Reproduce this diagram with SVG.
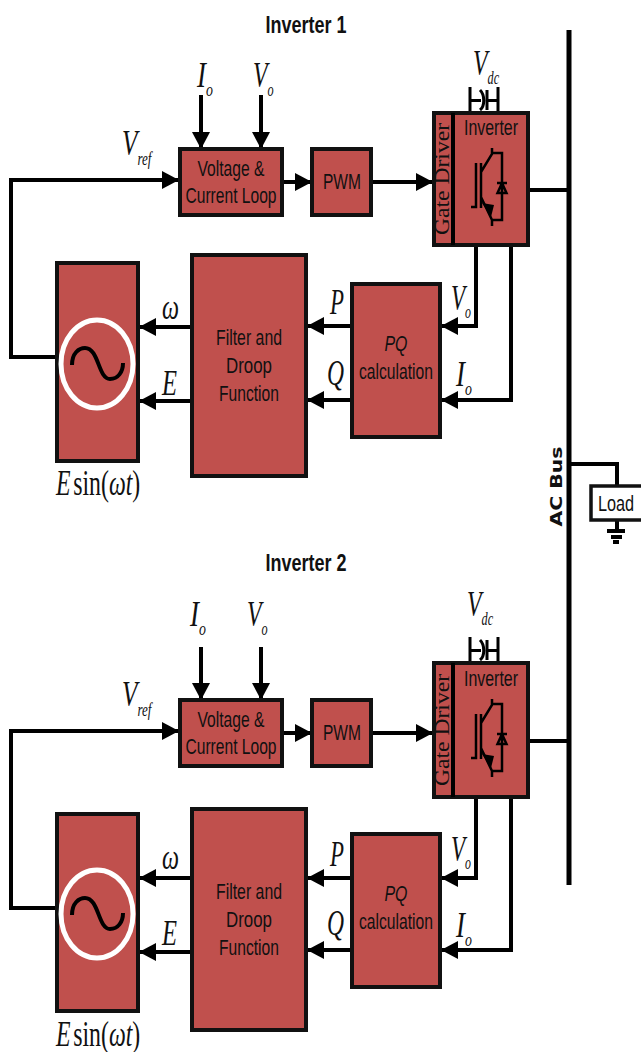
<svg xmlns="http://www.w3.org/2000/svg" width="641" height="1052" viewBox="0 0 641 1052">
<style>
.b{fill:#c0504d;stroke:#111;stroke-width:4;stroke-linejoin:miter}
.l{fill:none;stroke:#000;stroke-width:4}
.t{fill:none;stroke:#000;stroke-width:2.500}
.c{fill:none;stroke:#000;stroke-width:3}
.a{stroke:#000;stroke-width:4;fill:none}
.s{font-family:"Liberation Sans",sans-serif;font-size:22px;fill:#111;text-anchor:middle}
.i{font-family:"Liberation Serif",serif;font-style:italic;fill:#111;font-size:35px}
.u{font-size:18px}
.h{font-family:"Liberation Sans",sans-serif;font-weight:bold;font-size:23px;fill:#111;text-anchor:middle}
.g{font-family:"Liberation Serif",serif;font-size:20px;fill:#111;text-anchor:middle}
.e{fill:none;stroke:#fff;stroke-width:5}
</style>
<defs>
<marker id="ar" markerUnits="userSpaceOnUse" markerWidth="18" markerHeight="18" refX="17" refY="9" orient="auto"><path d="M0 0L17 9L0 18Z" fill="#000"/></marker>
<g id="igbt">
<path class="t" d="M471 207H476V163M481 163V208M481 172L492 154V148M492 153H502V220H492M492 226V220L481 197M497 183H507M497.500 193H506.500L502 183Z"/>
<path d="M482 203L494 205L491 217Z" fill="#000"/>
</g>
<path id="sine" class="l" d="M72 365C72 353 79 348 85 348C99 348 98 379 110 379C118 379 123 372 123 363"/>
</defs>

<g id="connectors">
<path class="l" style="stroke-width:5" d="M569 30V885"/>
<path class="l" d="M528 190H569M528 741H569M569 464H617V486M617 520V530"/>
<path class="l" d="M607 531H625M611 537H622"/>
<path class="l" d="M613 542H619"/>
<!-- Inverter 1 -->
<path class="a" marker-end="url(#ar)" d="M201 95V149"/>
<path class="a" marker-end="url(#ar)" d="M261 95V149"/>
<path class="a" marker-end="url(#ar)" d="M56 357H11V180H179"/>
<path class="a" marker-end="url(#ar)" d="M282 182H312"/>
<path class="a" marker-end="url(#ar)" d="M371 182H433"/>
<path class="a" marker-end="url(#ar)" d="M476 245V326H441"/>
<path class="a" marker-end="url(#ar)" d="M511 245V400H441"/>
<path class="a" marker-end="url(#ar)" d="M351 326H307"/>
<path class="a" marker-end="url(#ar)" d="M351 400H307"/>
<path class="a" marker-end="url(#ar)" d="M192 327H139"/>
<path class="a" marker-end="url(#ar)" d="M192 401H139"/>
<path class="c" d="M470 87V112M498 87V112M470 100.500H481M487 100.500H498"/>
<path class="c" d="M480 90C485 95 485 106 480 110M487 90V110"/>
<!-- Inverter 2 -->
<path class="a" marker-end="url(#ar)" d="M201 647V700"/>
<path class="a" marker-end="url(#ar)" d="M261 647V700"/>
<path class="a" marker-end="url(#ar)" d="M56 908H11V731H179"/>
<path class="a" marker-end="url(#ar)" d="M282 733H312"/>
<path class="a" marker-end="url(#ar)" d="M371 733H433"/>
<path class="a" marker-end="url(#ar)" d="M476 797V878H441"/>
<path class="a" marker-end="url(#ar)" d="M511 797V950H441"/>
<path class="a" marker-end="url(#ar)" d="M351 878H307"/>
<path class="a" marker-end="url(#ar)" d="M351 950H307"/>
<path class="a" marker-end="url(#ar)" d="M192 878H139"/>
<path class="a" marker-end="url(#ar)" d="M192 952H139"/>
<path class="c" d="M470 637V662M498 637V662M470 650.500H481M487 650.500H498"/>
<path class="c" d="M480 640C485 645 485 656 480 660M487 640V660"/>
</g>

<text class="h" x="306" y="33" textLength="81" lengthAdjust="spacingAndGlyphs">Inverter 1</text>
<text class="h" x="306" y="571" textLength="81" lengthAdjust="spacingAndGlyphs">Inverter 2</text>

<g id="vc1"><rect class="b" x="180" y="149" width="102" height="66"/><text class="s" x="231" y="176" textLength="67" lengthAdjust="spacingAndGlyphs">Voltage &amp;</text><text class="s" x="231" y="203" textLength="91" lengthAdjust="spacingAndGlyphs">Current Loop</text></g>
<g id="pwm1"><rect class="b" x="312" y="149" width="59" height="66"/><text class="s" x="342" y="189" textLength="38" lengthAdjust="spacingAndGlyphs">PWM</text></g>
<g id="inv1"><rect class="b" x="434" y="113" width="94" height="132"/><path class="l" d="M453 113V245"/><text class="s" x="491" y="135" textLength="54" lengthAdjust="spacingAndGlyphs">Inverter</text><text class="g" transform="translate(449 179) rotate(-90)" textLength="112" lengthAdjust="spacingAndGlyphs">Gate Driver</text><use href="#igbt"/></g>
<g id="src1"><rect class="b" x="57" y="263" width="81" height="198"/><ellipse class="e" cx="97" cy="364" rx="36" ry="44"/><use href="#sine"/></g>
<g id="droop1"><rect class="b" x="192" y="255" width="114" height="221"/><text class="s" x="249" y="345" textLength="66" lengthAdjust="spacingAndGlyphs">Filter and</text><text class="s" x="249" y="373" textLength="46" lengthAdjust="spacingAndGlyphs">Droop</text><text class="s" x="249" y="401" textLength="60" lengthAdjust="spacingAndGlyphs">Function</text></g>
<g id="pq1"><rect class="b" x="352" y="284" width="88" height="153"/><text class="s" x="396" y="351" font-style="italic" textLength="23" lengthAdjust="spacingAndGlyphs">PQ</text><text class="s" x="396" y="379" textLength="74" lengthAdjust="spacingAndGlyphs">calculation</text></g>

<g id="vc2"><rect class="b" x="180" y="700" width="102" height="66"/><text class="s" x="231" y="727" textLength="67" lengthAdjust="spacingAndGlyphs">Voltage &amp;</text><text class="s" x="231" y="754" textLength="91" lengthAdjust="spacingAndGlyphs">Current Loop</text></g>
<g id="pwm2"><rect class="b" x="312" y="700" width="59" height="66"/><text class="s" x="342" y="740" textLength="38" lengthAdjust="spacingAndGlyphs">PWM</text></g>
<g id="inv2"><rect class="b" x="434" y="663" width="94" height="134"/><path class="l" d="M453 663V797"/><text class="s" x="491" y="686" textLength="54" lengthAdjust="spacingAndGlyphs">Inverter</text><text class="g" transform="translate(449 730) rotate(-90)" textLength="112" lengthAdjust="spacingAndGlyphs">Gate Driver</text><use href="#igbt" y="551"/></g>
<g id="src2"><rect class="b" x="57" y="814" width="81" height="197"/><ellipse class="e" cx="97" cy="914" rx="36" ry="44"/><use href="#sine" y="550"/></g>
<g id="droop2"><rect class="b" x="192" y="809" width="114" height="221"/><text class="s" x="249" y="899" textLength="66" lengthAdjust="spacingAndGlyphs">Filter and</text><text class="s" x="249" y="927" textLength="46" lengthAdjust="spacingAndGlyphs">Droop</text><text class="s" x="249" y="955" textLength="60" lengthAdjust="spacingAndGlyphs">Function</text></g>
<g id="pq2"><rect class="b" x="352" y="834" width="88" height="153"/><text class="s" x="396" y="901" font-style="italic" textLength="23" lengthAdjust="spacingAndGlyphs">PQ</text><text class="s" x="396" y="929" textLength="74" lengthAdjust="spacingAndGlyphs">calculation</text></g>

<g id="load"><rect x="591" y="486" width="52" height="34" fill="#fff" stroke="#111" stroke-width="3.500"/><text class="s" transform="translate(616 511) scale(.74 1)">Load</text></g>
<text transform="translate(562 486.500) rotate(-90)" font-family="DejaVu Sans,sans-serif" font-weight="bold" font-size="16" fill="#111" text-anchor="middle" textLength="80" lengthAdjust="spacingAndGlyphs">AC Bus</text>

<g id="labels1">
<text class="i" transform="translate(197 87) scale(.77 1)">I<tspan class="u" dy="9">o</tspan></text>
<text class="i" transform="translate(253 87) scale(.68 1)">V<tspan class="u" dy="9">o</tspan></text>
<text class="i" transform="translate(122 155) scale(.72 1)">V<tspan class="u" dy="10">ref</tspan></text>
<text class="i" transform="translate(473 75) scale(.68 1)">V<tspan class="u" dy="9">dc</tspan></text>
<text class="i" x="330" y="314" textLength="14" lengthAdjust="spacingAndGlyphs">P</text>
<text class="i" x="327" y="385" textLength="17" lengthAdjust="spacingAndGlyphs">Q</text>
<text class="i" transform="translate(451 310) scale(.66 1)">V<tspan class="u" dy="8">o</tspan></text>
<text class="i" transform="translate(456 386) scale(.77 1)">I<tspan class="u" dy="9">o</tspan></text>
<text class="i" x="162" y="319" textLength="17" lengthAdjust="spacingAndGlyphs">ω</text>
<text class="i" x="162" y="395" textLength="15" lengthAdjust="spacingAndGlyphs">E</text>
<text class="i" transform="translate(56 495) scale(.68 1)">E<tspan font-style="normal" dx="4">sin(</tspan>ωt<tspan font-style="normal">)</tspan></text>
</g>
<g id="labels2">
<text class="i" transform="translate(190 626) scale(.77 1)">I<tspan class="u" dy="9">o</tspan></text>
<text class="i" transform="translate(247 626) scale(.68 1)">V<tspan class="u" dy="9">o</tspan></text>
<text class="i" transform="translate(122 706) scale(.72 1)">V<tspan class="u" dy="10">ref</tspan></text>
<text class="i" transform="translate(467 616) scale(.68 1)">V<tspan class="u" dy="9">dc</tspan></text>
<text class="i" x="330" y="866" textLength="14" lengthAdjust="spacingAndGlyphs">P</text>
<text class="i" x="327" y="935" textLength="17" lengthAdjust="spacingAndGlyphs">Q</text>
<text class="i" transform="translate(451 861) scale(.66 1)">V<tspan class="u" dy="8">o</tspan></text>
<text class="i" transform="translate(456 937) scale(.77 1)">I<tspan class="u" dy="9">o</tspan></text>
<text class="i" x="162" y="869" textLength="17" lengthAdjust="spacingAndGlyphs">ω</text>
<text class="i" x="162" y="945" textLength="15" lengthAdjust="spacingAndGlyphs">E</text>
<text class="i" transform="translate(56 1046) scale(.68 1)">E<tspan font-style="normal" dx="4">sin(</tspan>ωt<tspan font-style="normal">)</tspan></text>
</g>
</svg>
